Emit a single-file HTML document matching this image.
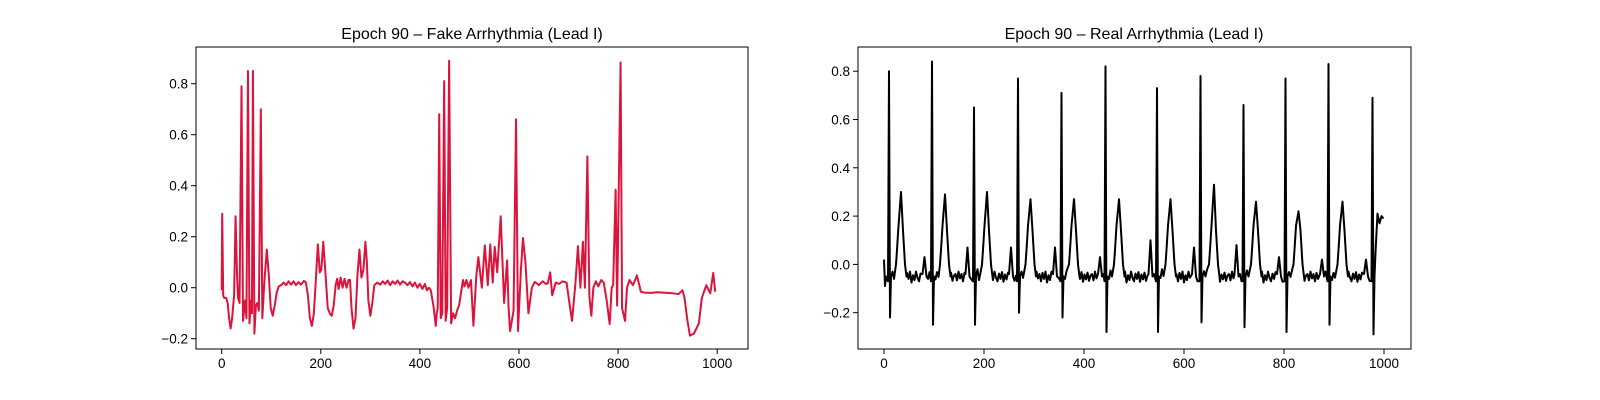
<!DOCTYPE html>
<html><head><meta charset="utf-8"><style>
html,body{margin:0;padding:0;background:#fff;}
svg{display:block;font-family:"Liberation Sans","DejaVu Sans",sans-serif;}
</style></head><body>
<svg id="c" width="1600" height="400" xmlns="http://www.w3.org/2000/svg">
<rect width="1600" height="400" fill="#fff"/>
<text x="472" y="39" font-size="16" text-anchor="middle">Epoch 90 – Fake Arrhythmia (Lead I)</text>
<text x="1134" y="39" font-size="16" text-anchor="middle">Epoch 90 – Real Arrhythmia (Lead I)</text>
<g id="left"></g>
<g id="right"></g>
</svg>
<script>
// ---- fake series (sample index / value key points) ----
const fakeX = [0,1,3,5,9,12,15,18,21,25,28,31,33,36,40,43,47,50,53,56,59,61,63,66,69,72,75,79,82,86,91,95,99,103,107,111,115,120,125,130,135,140,145,150,155,160,166,170,174,178,182,186,190,194,198,201,205,210,214,218,222,226,230,233,236,240,244,248,252,256,259,262,266,270,274,278,282,286,290,293,296,300,304,308,314,320,325,330,335,340,345,350,355,360,365,370,375,380,385,390,395,400,405,410,414,418,422,428,432,434,436,439,442,445,449,452,455,459,463,467,471,475,479,483,487,490,494,498,503,508,514,518,525,531,537,542,547,551,556,563,570,576,579,582,589,594,598,604,608,613,619,626,632,640,648,654,658,663,667,674,681,688,696,701,707,714,719,724,729,733,738,742,746,750,755,760,766,771,777,783,787,790,795,798,805,808,814,818,823,830,838,846,855,869,880,895,910,922,930,934,940,945,953,963,969,978,986,992,996,999];
const fakeY = [-0.01,0.29,-0.03,-0.04,-0.04,-0.06,-0.12,-0.16,-0.12,-0.03,0.28,0.05,-0.04,-0.06,0.79,-0.13,-0.05,-0.12,0.85,-0.14,-0.05,-0.10,0.85,-0.18,-0.07,-0.06,-0.09,0.70,-0.12,0.02,0.15,0.05,-0.08,-0.11,-0.07,-0.02,0.005,0.01,0.02,0.01,0.025,0.012,0.025,0.01,0.022,0.012,0.027,0.02,-0.03,-0.12,-0.15,-0.10,0.03,0.17,0.06,0.07,0.18,0.04,-0.08,-0.10,-0.11,-0.07,0.01,0.035,-0.005,0.04,0.0,0.035,0.0,0.03,0.03,-0.08,-0.16,-0.12,0.05,0.15,0.04,0.07,0.18,0.10,-0.05,-0.11,-0.06,0.01,0.02,0.012,0.025,0.015,0.028,0.01,0.025,0.015,0.028,0.012,0.025,0.02,0.01,0.022,0.005,0.02,0.0,0.015,-0.005,0.015,-0.01,0.0,-0.01,-0.08,-0.15,-0.10,-0.08,0.68,-0.12,-0.10,0.81,-0.13,-0.08,0.89,-0.14,-0.10,-0.12,-0.09,-0.07,-0.02,0.03,0.005,0.03,0.0,0.03,-0.149,0.05,0.12,0.0,0.166,0.01,0.17,0.02,0.16,0.06,0.28,-0.06,0.107,-0.08,-0.17,-0.09,0.66,-0.17,0.074,0.195,0.10,-0.10,0.0,0.023,0.01,0.025,0.015,0.017,0.06,-0.03,0.02,0.015,0.025,0.02,-0.05,-0.13,0.02,0.163,0.0,0.18,0.0,0.515,-0.035,-0.11,0.0,0.025,0.005,0.03,0.02,-0.05,-0.143,0.0,0.01,0.384,-0.07,0.883,-0.08,-0.13,0.0,0.03,0.01,0.048,-0.016,-0.02,-0.02,-0.018,-0.02,-0.022,-0.025,-0.01,-0.04,-0.13,-0.188,-0.18,-0.14,-0.04,0.01,-0.022,0.058,-0.016];
// ---- real series (beat landmarks) ----
const rPos = [10,96,180,268,355,443,546,633,719,803,889,977];
const rAmp = [0.80,0.84,0.65,0.77,0.71,0.82,0.73,0.78,0.66,0.77,0.83,0.69];
const sAmp = [-0.22,-0.25,-0.25,-0.20,-0.22,-0.28,-0.28,-0.24,-0.26,-0.28,-0.25,-0.29];
const tPos = [34,122,206,293,380,470,573,660,744,829,917];
const tAmp = [0.30,0.29,0.30,0.27,0.27,0.27,0.27,0.33,0.26,0.22,0.26];
const pPos = [81,167,254,342,432,533,620,705,790,876,964];
const pAmp = [0.03,0.07,0.07,0.07,0.03,0.10,0.07,0.08,0.03,0.02,0.02];
const noise = [0.01,-0.02,0.015,-0.01,0.02,-0.025,0.005,-0.015,0.02,-0.005,-0.02,0.012,-0.01,0.018,-0.022,0.008,-0.012,0.016,-0.018,0.004,0.01,-0.016,0.02,-0.008];
const endX = [983,987,991,995,999];
const endY = [0.05,0.21,0.17,0.20,0.19];
const xTicks = [0,200,400,600,800,1000];
const yTicks = [-0.2,0.0,0.2,0.4,0.6,0.8];

const NS="http://www.w3.org/2000/svg";
function mk(tag,attrs,parent){const e=document.createElementNS(NS,tag);for(const k in attrs)e.setAttribute(k,attrs[k]);parent.appendChild(e);return e;}

function drawAxes(g,L,R,T,B,xs,ys,prefix){
  const fr=mk('rect',{x:L,y:T,width:R-L,height:B-T,fill:'none',stroke:'#000','stroke-width':1},g);
  
  
  xTicks.forEach(v=>{const px=xs(v);
    const t=mk('line',{x1:px,x2:px,y1:B,y2:B+5,stroke:'#000'},g);
    
    
    const l=mk('text',{x:px,y:B+19,'font-size':13.5,'text-anchor':'middle'},g);l.textContent=String(v);
    
    
  });
  yTicks.forEach(v=>{const py=ys(v);
    const t=mk('line',{x1:L-5,x2:L,y1:py,y2:py,stroke:'#000'},g);
    
    
    const l=mk('text',{x:L-8,y:py+5,'font-size':13.5,'text-anchor':'end'},g);l.textContent=(v<0?'\u2212':'')+Math.abs(v).toFixed(1);
    
    
  });
}
function drawLine(g,pts,xs,ys,color,name){
  const d=pts.map((p,i)=>(i?'L':'M')+xs(p[0]).toFixed(2)+' '+ys(p[1]).toFixed(2)).join('');
  const path=mk('path',{d:d,fill:'none',stroke:color,'stroke-width':2,'stroke-linejoin':'round'},g);
  
  
}

// left
(function(){
  const g=document.getElementById('left');
  const xs=v=>221.7+0.4955*v, ys=v=>287.7-255*v;
  drawLine(g,fakeX.map((x,i)=>[x,fakeY[i]]),xs,ys,'#dc143c','fake-ecg-line');
  drawAxes(g,196,748,47,349,xs,ys,'fake');
})();
// right
(function(){
  const g=document.getElementById('right');
  const xs=v=>884+0.5*v, ys=v=>264.4-241.5*v;
  const pts=[[0,0.02],[2,-0.09],[4,-0.05]];
  let k=0;
  for(let i=0;i<rPos.length;i++){
    const r=rPos[i];
    if(i>0){
      const start=tPos[i-1]+12, stop=pPos[i-1]-5;
      for(let x=start;x<stop;x+=3){pts.push([x,-0.05+noise[k%noise.length]]);k++;}
      const p=pPos[i-1];
      pts.push([p-4,-0.04],[p,pAmp[i-1]],[p+4,-0.05]);
      for(let x=p+7;x<r-3;x+=3){pts.push([x,-0.05+noise[k%noise.length]]);k++;}
    } else {pts.push([6,-0.06]);}
    pts.push([r-2,-0.07],[r,rAmp[i]],[r+2,sAmp[i]],[r+4,-0.05]);
    if(i<tPos.length){
      const t=tPos[i];
      for(let x=r+7;x<t-12;x+=3){pts.push([x,-0.04+noise[k%noise.length]]);k++;}
      pts.push([t-10,0.0],[t-8,0.06],[t-5,0.16],[t,tAmp[i]],[t+4,0.14],[t+8,0.0],[t+11,-0.05]);
    }
  }
  endX.forEach((x,i)=>pts.push([x,endY[i]]));
  drawLine(g,pts,xs,ys,'#000','real-ecg-line');
  drawAxes(g,858,1411,47,349,xs,ys,'real');
})();
</script>
</body></html>
